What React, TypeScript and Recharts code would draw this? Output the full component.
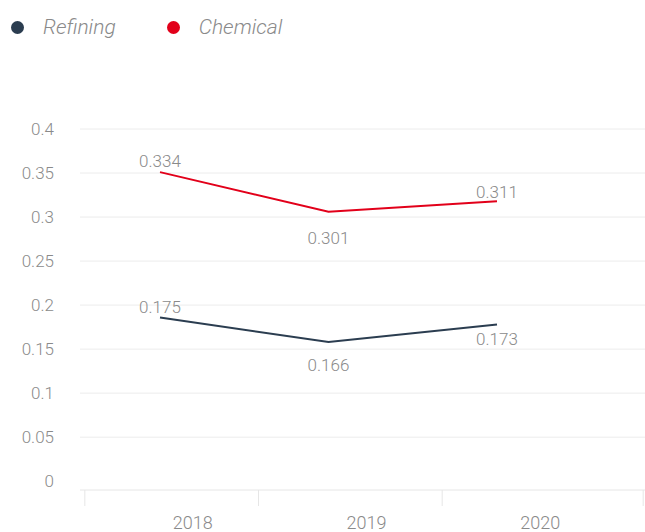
import React from "react";
import {
  LineChart,
  Line,
  XAxis,
  YAxis,
  CartesianGrid,
  LabelList,
} from "recharts";

const years = ["2018", "2019", "2020"];
const refining = [0.186, 0.158, 0.178];
const chemical = [0.351, 0.306, 0.318];
const refiningLabels = ["0.175", "0.166", "0.173"];
const chemicalLabels = ["0.334", "0.301", "0.311"];
const yTicks = [0, 0.05, 0.1, 0.15, 0.2, 0.25, 0.3, 0.35, 0.4];
const gridValues = [0.05, 0.1, 0.15, 0.2, 0.25, 0.3, 0.35, 0.4];

const NAVY = "#2b3d50";
const RED = "#e2001a";
const TEXT = "#8a8a8a";
const FONT = "Roboto, 'Open Sans', sans-serif";

const data = years.map((year, i) => ({
  year,
  refining: refining[i],
  chemical: chemical[i],
}));

// label offsets (relative to the point), per series
const refiningPlace = [-10, 23, 14];
const chemicalPlace = [-11, 26, -9];

const makeLabel =
  (texts: string[], offsets: number[]) =>
  (props: any) => {
    const { x, y, index } = props;
    return (
      <text
        x={x}
        y={y + offsets[index]}
        dy="0.355em"
        textAnchor="middle"
        fill={TEXT}
        fontSize={17}
        fontWeight={300}
        fontFamily={FONT}
      >
        {texts[index]}
      </text>
    );
  };

const YearTick = (props: any) => {
  const { x, y, payload, index } = props;
  const last = index === years.length - 1;
  const left = last ? 98 : 108;
  return (
    <g>
      <line x1={x - left} x2={x - left} y1={y} y2={y + 16} stroke="#e6e6e6" />
      {last && <line x1={x + 103} x2={x + 103} y1={y} y2={y + 16} stroke="#e6e6e6" />}
      <text
        x={x}
        y={y + 39}
        textAnchor="middle"
        fill={TEXT}
        fontSize={18}
        fontWeight={300}
        fontFamily={FONT}
      >
        {payload.value}
      </text>
    </g>
  );
};

function LegendItem({ color, label }: { color: string; label: string }) {
  return (
    <div style={{ display: "flex", alignItems: "center", marginRight: 51 }}>
      <span
        style={{
          width: 13,
          height: 13,
          borderRadius: "50%",
          background: color,
          display: "inline-block",
          marginRight: 19,
        }}
      />
      <span
        style={{
          fontStyle: "italic",
          fontWeight: 300,
          fontSize: 21,
          color: TEXT,
          fontFamily: FONT,
        }}
      >
        {label}
      </span>
    </div>
  );
}

export default function App() {
  return (
    <div
      style={{
        position: "absolute",
        left: 0,
        top: 0,
        width: 645,
        height: 532,
        background: "#fff",
      }}
    >
      <div
        style={{
          position: "absolute",
          left: 11,
          top: 15,
          display: "flex",
          alignItems: "center",
        }}
      >
        <LegendItem color={NAVY} label="Refining" />
        <LegendItem color={RED} label="Chemical" />
      </div>
      <LineChart
        width={645}
        height={532}
        data={data}
        margin={{ top: 129, right: 0, left: 0, bottom: 0 }}
      >
        <CartesianGrid
          xAxisId="pts"
          vertical={false}
          stroke="#ececec"
          horizontalValues={gridValues}
        />
        <XAxis
          xAxisId="pts"
          dataKey="year"
          hide
          padding={{ left: 80, right: 148 }}
          scale="point"
        />
        <XAxis
          xAxisId="lbl"
          dataKey="year"
          height={42}
          scale="band"
          padding={{ left: 26, right: 18 }}
          axisLine={{ stroke: "#e6e6e6" }}
          tickLine={false}
          tickSize={0}
          tickMargin={0}
          tick={<YearTick />}
          interval={0}
        />
        <YAxis
          width={80}
          domain={[-0.01, 0.4]}
          ticks={yTicks}
          allowDataOverflow
          axisLine={false}
          tickLine={false}
          tickSize={0}
          tickMargin={26}
          tick={{ fill: TEXT, fontSize: 17, fontWeight: 300, fontFamily: FONT }}
        />
        <Line
          xAxisId="pts"
          dataKey="refining"
          stroke={NAVY}
          strokeWidth={2}
          dot={false}
          activeDot={false}
          isAnimationActive={false}
        >
          <LabelList dataKey="refining" content={makeLabel(refiningLabels, refiningPlace)} />
        </Line>
        <Line
          xAxisId="pts"
          dataKey="chemical"
          stroke={RED}
          strokeWidth={2}
          dot={false}
          activeDot={false}
          isAnimationActive={false}
        >
          <LabelList dataKey="chemical" content={makeLabel(chemicalLabels, chemicalPlace)} />
        </Line>
      </LineChart>
    </div>
  );
}
